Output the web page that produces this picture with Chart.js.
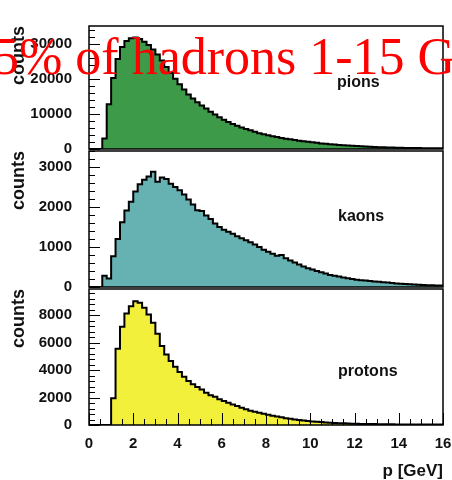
<!DOCTYPE html>
<html>
<head>
<meta charset="utf-8">
<script src="https://cdn.jsdelivr.net/npm/chart.js@4.4.1/dist/chart.umd.min.js"></script>
<style>
  html, body { margin: 0; padding: 0; background: #fff; overflow: hidden; }
  #wrap { position: relative; width: 452px; height: 480px; overflow: hidden; }
  canvas { position: absolute; left: 0; top: 0; }
  .name { position: absolute; font: bold 16px "Liberation Sans", Arial, sans-serif; line-height: 16px; color: #111; }
  #banner { position: absolute; left: -7px; top: 31px; z-index: 5; white-space: nowrap;
            font: 52px "Liberation Serif", "Times New Roman", serif; line-height: 52px; color: #ff0000; }
</style>
</head>
<body>
<div id="wrap">
  <canvas id="pionChart" width="452" height="480"></canvas>
  <canvas id="kaonChart" width="452" height="480"></canvas>
  <canvas id="protonChart" width="452" height="480"></canvas>
  <div class="name" style="left:337px; top:74px;">pions</div>
  <div class="name" style="left:338px; top:208px;">kaons</div>
  <div class="name" style="left:338px; top:363px;">protons</div>
  <div id="banner">5% of hadrons 1-15 GeV</div>
</div>
<script>
// bins of 0.2 GeV from 0 to 16
const xMin = 0;
const xMax = 16;
const binWidth = 0.2;
const xTickVals = [0, 2, 4, 6, 8, 10, 12, 14, 16];

const pions = [
  0, 0, 0, 3000, 12700, 20200, 25600, 29000, 30700, 31500,
  31700, 31300, 30500, 29600, 28300, 26900, 25200, 23300, 21600, 20000,
  18400, 16900, 15500, 14400, 13300, 12400, 11500, 10600, 9800, 9000,
  8300, 7700, 7100, 6600, 6100, 5700, 5300, 4900, 4500, 4200,
  3900, 3650, 3400, 3150, 2950, 2750, 2550, 2350, 2200, 2050,
  1900, 1750, 1600, 1480, 1370, 1260, 1150, 1060, 980, 900,
  820, 750, 690, 630, 580, 530, 490, 450, 410, 380,
  350, 320, 300, 280, 260, 240, 220, 210, 200, 190
];
const kaons = [
  0, 0, 0, 280, 210, 770, 1200, 1620, 1910, 2130,
  2390, 2570, 2680, 2760, 2880, 2630, 2740, 2700, 2580, 2500,
  2420, 2310, 2190, 2060, 1920, 1900, 1790, 1700, 1590, 1500,
  1430, 1380, 1330, 1270, 1220, 1170, 1120, 1060, 1000, 930,
  880, 830, 780, 800, 720, 660, 610, 560, 510, 470,
  440, 400, 370, 340, 300, 280, 260, 240, 220, 200,
  180, 170, 160, 150, 140, 130, 120, 110, 100, 90,
  80, 75, 70, 60, 55, 50, 45, 45, 40, 40
];
const protons = [
  0, 0, 0, 0, 0, 1940, 5550, 7150, 8120, 8650,
  9000, 8900, 8530, 8050, 7440, 6640, 5750, 5140, 4650, 4240,
  3850, 3520, 3200, 2960, 2760, 2590, 2350, 2160, 2060, 1870,
  1750, 1620, 1500, 1380, 1260, 1140, 1040, 960, 890, 820,
  750, 680, 620, 560, 500, 450, 400, 360, 320, 290,
  260, 230, 210, 190, 170, 150, 135, 120, 105, 95,
  85, 80, 75, 70, 65, 60, 55, 50, 48, 45,
  42, 40, 38, 36, 35, 33, 32, 30, 30, 28
];

const pionTicks = [0, 10000, 20000, 30000];
const kaonTicks = [0, 1000, 2000, 3000];
const protonTicks = [0, 2000, 4000, 6000, 8000];

const labelFont = { family: '"Liberation Sans", Arial, sans-serif', size: 15, weight: 'bold' };

// frame around the pad + ROOT style ticks pointing inwards
const padFrame = {
  id: 'padFrame',
  afterDatasetsDraw(chart, args, opts) {
    const { ctx, chartArea: a, scales: { x, y } } = chart;
    ctx.save();
    ctx.strokeStyle = '#000';
    ctx.lineWidth = 1;
    for (let v = 0; v <= y.max + 1e-6; v += opts.yMinor) {
      const py = Math.round(y.getPixelForValue(v)) + 0.5;
      const major = Math.abs(v / opts.yMajor - Math.round(v / opts.yMajor)) < 1e-6;
      ctx.beginPath();
      ctx.moveTo(a.left, py);
      ctx.lineTo(a.left + (major ? 11 : 6), py);
      ctx.stroke();
    }
    if (opts.xTicks) {
      for (let v = xMin; v <= xMax + 1e-6; v += 0.5) {
        const px = Math.round(x.getPixelForValue(v)) + 0.5;
        const major = Math.abs(v / 2 - Math.round(v / 2)) < 1e-6;
        ctx.beginPath();
        ctx.moveTo(px, a.bottom);
        ctx.lineTo(px, a.bottom - (major ? 12 : 6));
        ctx.stroke();
      }
    }
    ctx.lineWidth = 1.5;
    ctx.strokeRect(a.left, a.top, a.right - a.left, a.bottom - a.top);
    ctx.restore();
  }
};

function makePanel(id, counts, color, yMax, yTicks, yMinor, top, bottom, showX) {
  // point at each bin's low edge, plus the closing upper edge
  const points = counts.map((c, i) => ({ x: xMin + i * binWidth, y: c }));
  points.push({ x: xMax, y: counts[counts.length - 1] });

  return new Chart(document.getElementById(id), {
    type: 'line',
    data: {
      datasets: [{
        data: points,
        stepped: 'before',
        fill: 'origin',
        backgroundColor: color,
        borderColor: '#000',
        borderWidth: 2,
        pointRadius: 0
      }]
    },
    options: {
      responsive: false,
      animation: false,
      events: [],
      layout: { padding: { top: top, bottom: showX ? 0 : 480 - bottom, left: 0, right: 9 } },
      plugins: {
        legend: { display: false },
        tooltip: { enabled: false },
        padFrame: { yMajor: yTicks[1], yMinor: yMinor, xTicks: showX }
      },
      scales: {
        x: {
          type: 'linear',
          min: xMin,
          max: xMax,
          display: showX,
          afterBuildTicks: s => { s.ticks = xTickVals.map(v => ({ value: v })); },
          afterFit: s => {
            if (showX) s.height = 480 - bottom;
            s.paddingLeft = 0;
            s.paddingRight = 0;
          },
          grid: { display: false, drawTicks: false },
          border: { display: false },
          ticks: { autoSkip: false, maxRotation: 0, padding: 10, color: '#111', font: labelFont,
                   callback: v => String(v) },
          title: {
            display: true,
            text: 'p [GeV]',
            align: 'end',
            color: '#111',
            padding: { top: 0, bottom: 0 },
            font: { family: '"Liberation Sans", Arial, sans-serif', size: 17, weight: 'bold', lineHeight: 1 }
          }
        },
        y: {
          min: 0,
          max: yMax,
          afterBuildTicks: s => { s.ticks = yTicks.map(v => ({ value: v })); },
          afterFit: s => { s.width = 89; },
          grid: { display: false, drawTicks: false },
          border: { display: false },
          ticks: { padding: 17, color: '#111', font: labelFont, callback: v => String(v) },
          title: {
            display: true,
            text: 'counts',
            align: 'end',
            color: '#111',
            padding: { top: 10, bottom: 0 },
            font: { family: '"Liberation Sans", Arial, sans-serif', size: 18, weight: 'bold', lineHeight: 1 }
          }
        }
      }
    },
    plugins: [padFrame]
  });
}

makePanel('pionChart', pions, '#3d9a48', 35000, pionTicks, 2000, 12, 149, false);
makePanel('kaonChart', kaons, '#66b2b2', 3400, kaonTicks, 200, 151, 287, false);
makePanel('protonChart', protons, '#f3f03c', 9900, protonTicks, 400, 289, 425, true);
</script>
</body>
</html>
